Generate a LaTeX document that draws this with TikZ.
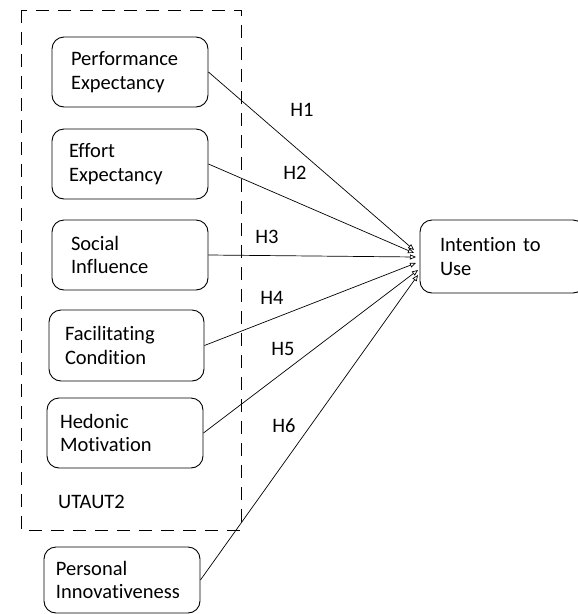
\documentclass[tikz,border=0pt]{standalone}
\usepackage{fontspec}
\setmainfont[Ligatures=NoCommon]{Carlito}
\usetikzlibrary{arrows.meta}
\begin{document}
\begin{tikzpicture}[x=1pt,y=-1pt,
  every node/.style={font=\fontsize{20.5}{23.5}\selectfont},
  cbox/.style={draw, line width=0.9pt, rounded corners=12pt, minimum height=70pt, minimum width=156pt, inner xsep=0pt, align=left},
  conn/.style={line width=0.7pt, -{Triangle[open,length=6pt,width=5pt]}},
  hlabel/.style={inner sep=0pt}]
\useasboundingbox (0,0) rectangle (578,614);
\draw[line width=1pt, dash pattern=on 13pt off 9pt] (21,10) rectangle (241,530);
\node[cbox, text width=118pt] (pe) at (130,72) {Performance\\Expectancy};
\node[cbox, text width=122pt] (ee) at (130,164) {Effort\\Expectancy};
\node[cbox, text width=118pt] (si) at (130,255) {Social\\Influence};
\node[cbox, text width=123pt, minimum width=155pt, minimum height=71pt] (fc) at (126.5,345.5) {Facilitating\\Condition};
\node[cbox, text width=130pt] (hm) at (125,433) {Hedonic\\Motivation};
\node[cbox, text width=132pt, minimum height=66pt] (pi) at (122,580) {Personal\\Innovativeness};
\node[cbox, text width=125pt, minimum width=165pt, minimum height=73pt] (iu) at (502.5,256.5) {Intention to\\Use};
\node[hlabel, anchor=west] (ut) at (58,502) {UTAUT2};
\coordinate (t1) at (414,250);
\coordinate (t2) at (414,253);
\coordinate (t3) at (416,257);
\coordinate (t4) at (416,263);
\coordinate (t5) at (418,270);
\coordinate (t6) at (418,275);
\draw[conn] (pe.east) -- (t1);
\draw[conn] (ee.east) -- (t2);
\draw[conn] (si.east) -- (t3);
\draw[conn] (fc.east) -- (t4);
\draw[conn] (hm.east) -- (t5);
\draw[conn] (pi.east) -- (t6);
\node[hlabel] (h1) at (302,110) {H1};
\node[hlabel] (h2) at (295,173) {H2};
\node[hlabel] (h3) at (267,237) {H3};
\node[hlabel] (h4) at (272,298) {H4};
\node[hlabel] (h5) at (283,349) {H5};
\node[hlabel] (h6) at (284,426) {H6};
\end{tikzpicture}
\end{document}
